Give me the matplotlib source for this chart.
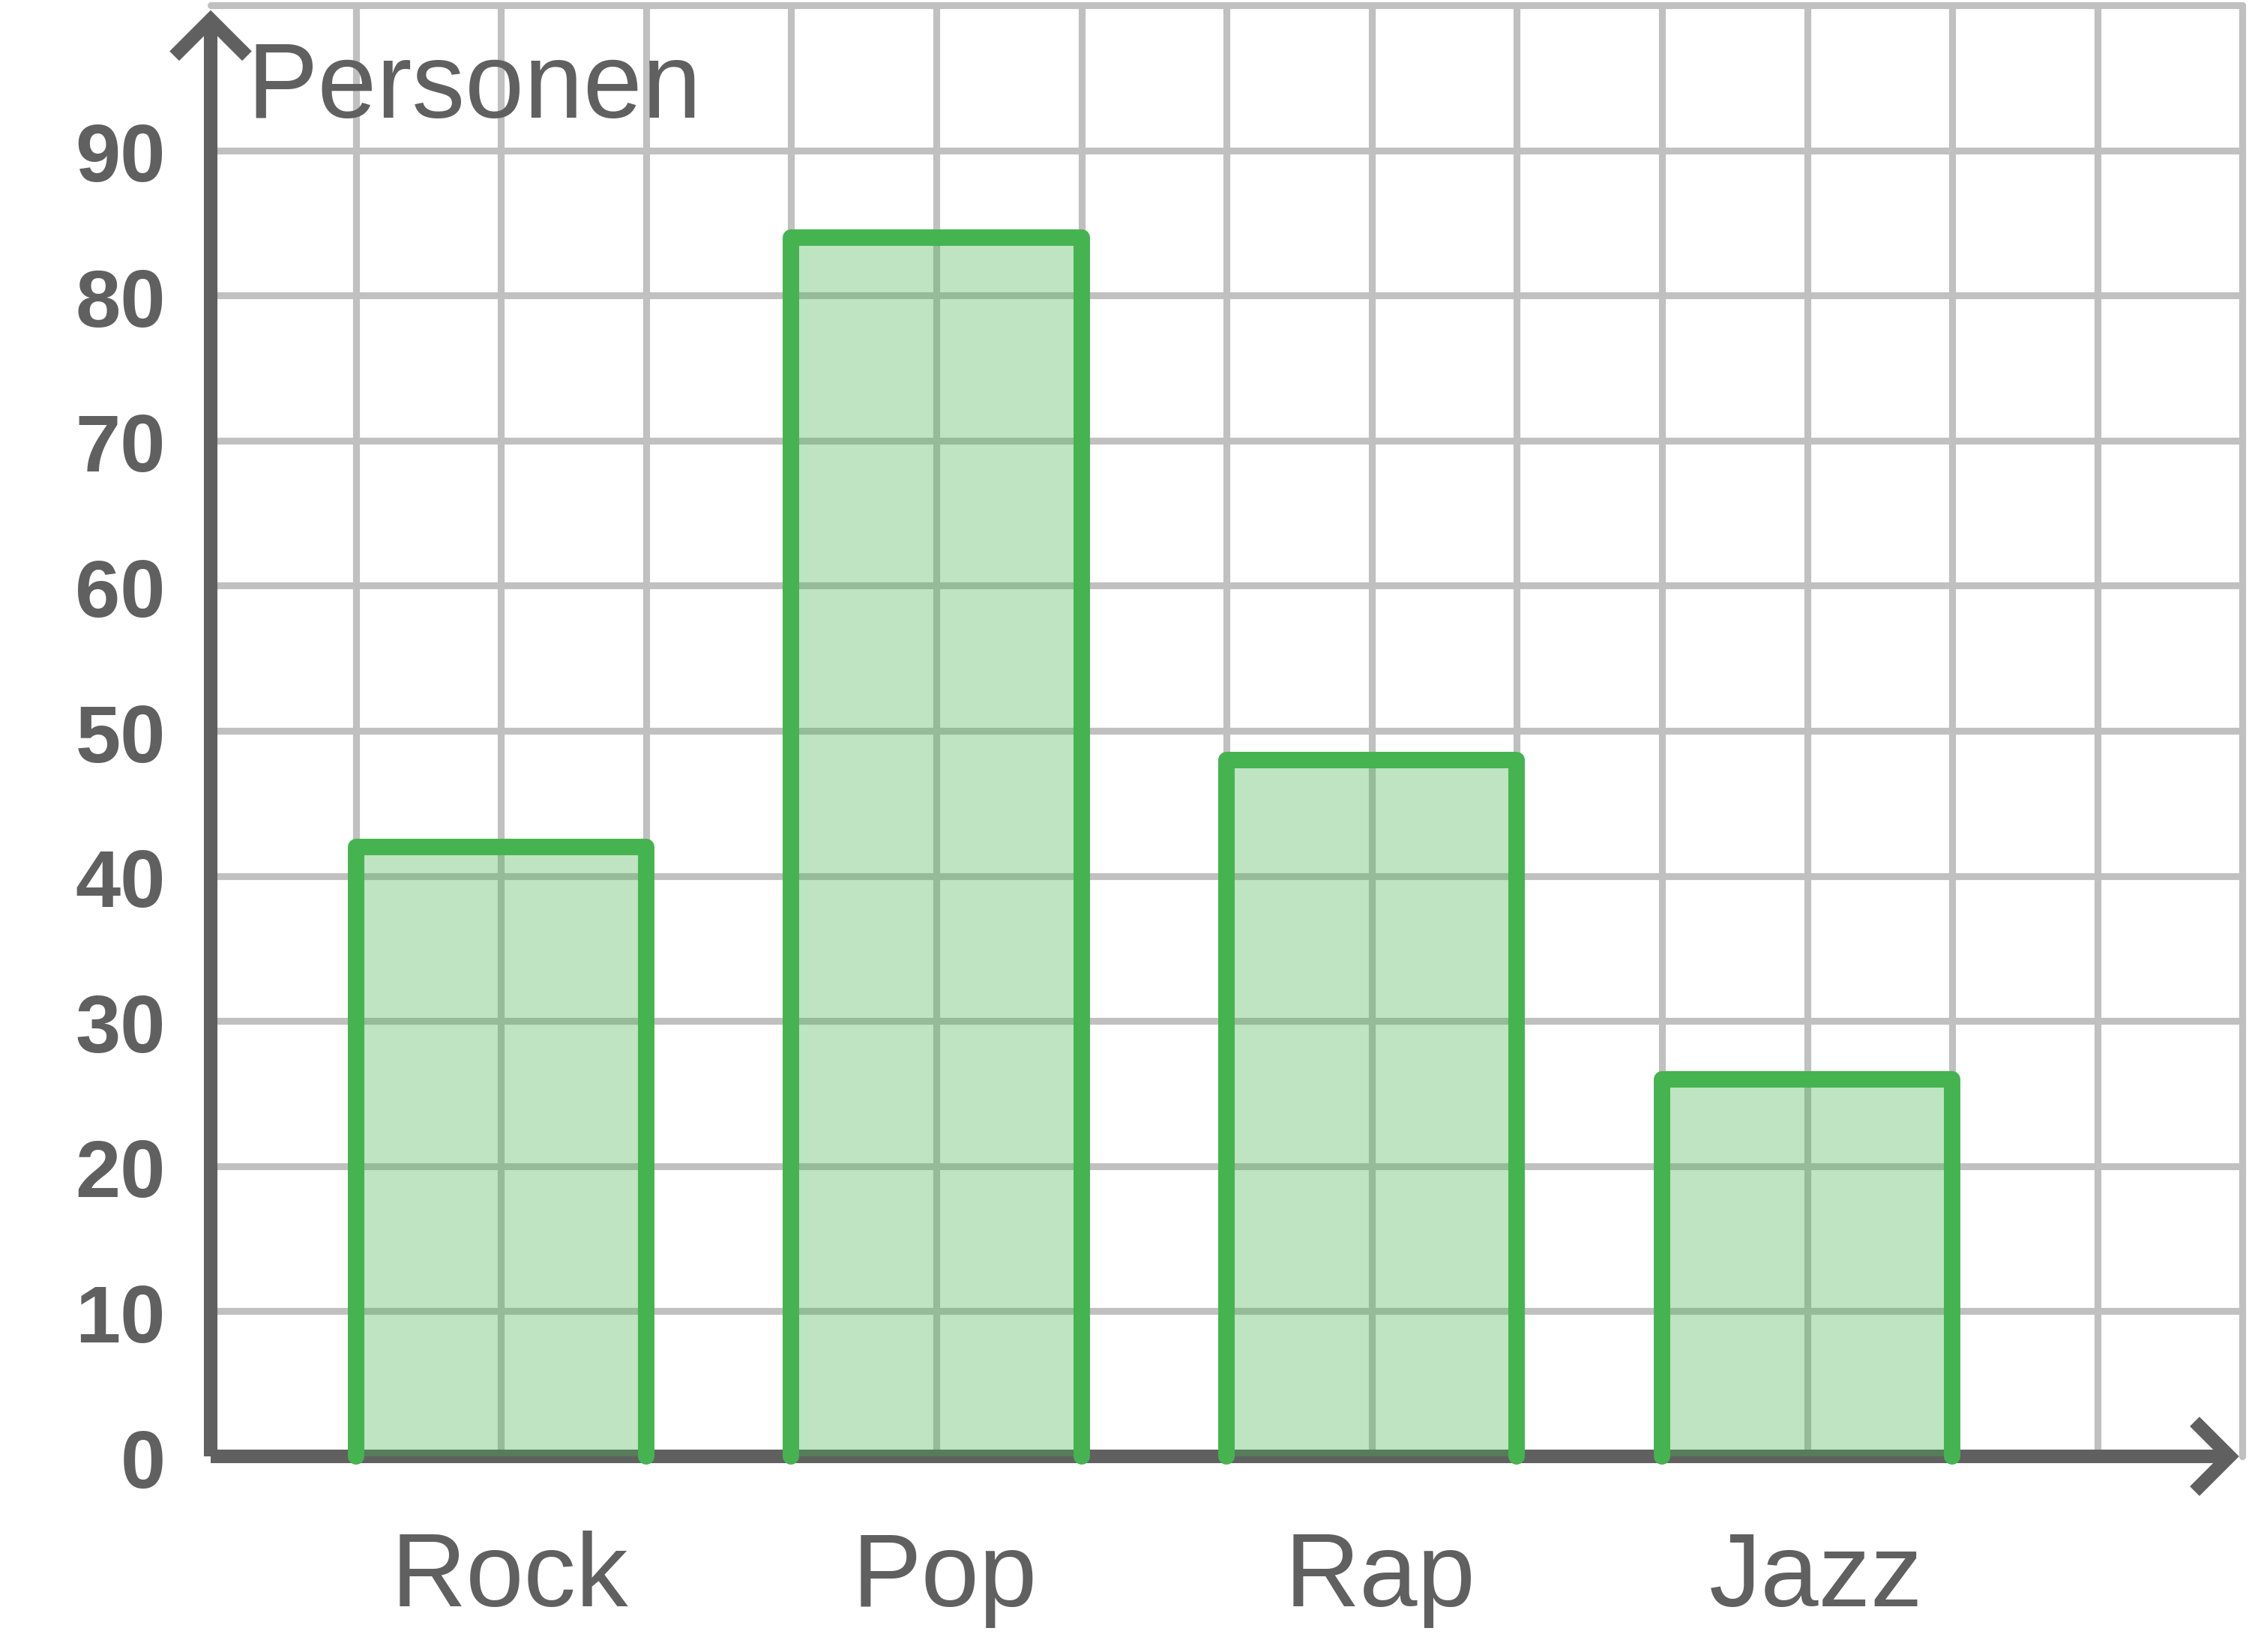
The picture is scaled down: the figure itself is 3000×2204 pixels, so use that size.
import matplotlib
matplotlib.use("Agg")
import matplotlib.pyplot as plt

categories = ["Rock", "Pop", "Rap", "Jazz"]
values = [42, 84, 48, 26]
yticks = [0, 10, 20, 30, 40, 50, 60, 70, 80, 90]
ylabel = "Personen"

green = "#45b34f"
axis_col = "#606060"
grid_col = "#c0c0c0"

plt.rcParams['font.family'] = ['Liberation Sans', 'DejaVu Sans']

fig = plt.figure(figsize=(15, 11.02), dpi=200)
ax = fig.add_axes([0, 0, 1, 1])
ax.set_xlim(-281 / 193.6, (3000 - 281) / 193.6)
ax.set_ylim(-(2204 - 1943) / 19.36, 1943 / 19.36)
ax.axis("off")

# grid
for gx in range(1, 15):
    ax.plot([gx, gx], [0, 100], color=grid_col, lw=3.3, solid_capstyle="round", zorder=1)
for gy in range(10, 101, 10):
    ax.plot([0, 14], [gy, gy], color=grid_col, lw=3.3, solid_capstyle="round", zorder=1)

# axes with arrow heads
ax.plot([0, 0], [0, 99.0], color=axis_col, lw=6.5, solid_capstyle="butt", zorder=2)
ax.plot([-0.25, 0, 0.25], [99.0 - 2.5, 99.0, 99.0 - 2.5], color=axis_col, lw=6.5,
        solid_joinstyle="miter", solid_capstyle="butt", zorder=2)
ax.plot([0, 13.91], [0, 0], color=axis_col, lw=6.5, solid_capstyle="butt", zorder=2)
ax.plot([13.91 - 0.24, 13.91, 13.91 - 0.24], [2.4, 0, -2.4], color=axis_col, lw=6.5,
        solid_joinstyle="miter", solid_capstyle="butt", zorder=2)

# bars
for i, (cat, v) in enumerate(zip(categories, values)):
    c = 2 + 3 * i
    ax.bar(c, v, width=2, color=green, alpha=0.35, linewidth=0, zorder=3)
    ax.plot([c - 1, c - 1, c + 1, c + 1], [0, v, v, 0], color=green, lw=7.9,
            solid_capstyle="round", solid_joinstyle="round", zorder=4)
    ax.text(c + 0.06, -10.33, cat, fontsize=50, color=axis_col, ha="center", va="baseline")

for t in yticks:
    ax.text(-0.31, t - 2.15, str(t), fontsize=39, fontweight="bold", color=axis_col,
            ha="right", va="baseline")

ax.text(0.248, 92.25, ylabel, fontsize=51, color=axis_col, ha="left", va="baseline")

fig.savefig("out.png", dpi=200)
